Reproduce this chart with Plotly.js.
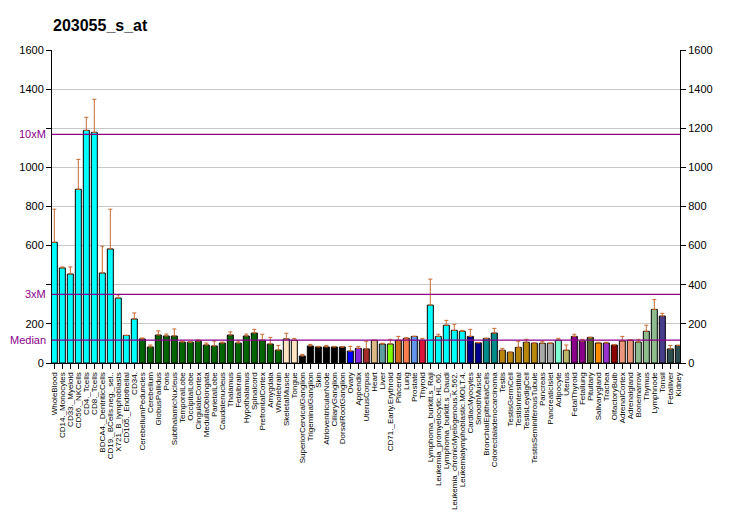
<!DOCTYPE html>
<html>
<head>
<meta charset="utf-8">
<script src="https://cdn.plot.ly/plotly-3.0.1.min.js"></script>
<style>html,body{margin:0;padding:0;background:#fff;}#chart{width:732px;height:530px;}</style>
</head>
<body>
<div id="chart"></div>
<script>
const chartTitle = "203055_s_at";
const categories = [
  "WholeBlood","CD14._Monocytes","CD33._Myeloid","CD56._NKCells","CD4._Tcells","CD8._Tcells",
  "BDCA4._DentriticCells","CD19._BCells.neg._sel..","X721_B_lymphoblasts","CD105._Endothelial","CD34.",
  "CerebellumPeduncles","Cerebellum","GlobusPallidus","Pons","SubthalamicNucleus","TemporalLobe",
  "OccipitalLobe","CingulateCortex","MedullaOblongata","ParietalLobe","Caudatenucleus","Thalamus",
  "Fetalbrain","Hypothalamus","Spinalcord","PrefrontalCortex","Amygdala","Wholebrain",
  "SkeletalMuscle","Tongue","SuperiorCervicalGanglion","TrigeminalGanglion","Skin",
  "AtrioventricularNode","CiliaryGanglion","DorsalRootGanglion","Ovary","Appendix","UterusCorpus",
  "Heart","Liver","CD71._Early.Erythroid","Placenta","Lung","Prostate","Thyroid",
  "Lymphoma_burkitt.s_Raji","Leukemia_promyelocytic.HL.60.","Lymphoma_burkitt.s_Daudi",
  "Leukemia_chronicMyelogenous.K.562.","Leukemialymphoblastic.MOLT.4.","CardiacMyocytes",
  "SmoothMuscle","BronchialEpithelialCells","Colorectaladenocarcinoma","Testis","TestisGermCell",
  "TestisInterstitial","TestisLeydigCell","TestisSeminiferousTubule","Pancreas","PancreaticIslet",
  "Adipocyte","Uterus","FetalThyroid","Fetallung","Pituitary","Salivarygland","Trachea",
  "OlfactoryBulb","AdrenalCortex","Adrenalgland","Bonemarrow","Thymus","Lymphnode","Tonsil",
  "Fetalliver","Kidney"
];
const values = [
  617,486,455,888,1189,1179,460,583,332,141,225,
  123,82,143,138,138,107,107,112,92,87,102,143,102,138,153,116,97,66,
  123,116,36,87,82,82,82,82,61,75,72,
  116,97,97,116,126,136,116,
  296,136,193,167,162,136,
  103,126,153,65,55,80,106,101,101,101,
  116,65,136,112,131,102,102,92,112,116,107,162,274,240,72,90
];
const errorsUp = [
  169,5,36,153,67,169,137,203,16,0,31,
  5,10,21,10,36,5,0,6,10,25,5,16,10,10,19,31,34,24,
  29,10,8,8,3,8,3,0,24,10,39,
  0,4,24,20,3,0,10,
  133,11,25,31,5,36,
  2,0,24,10,0,31,15,2,10,0,
  10,27,11,9,0,4,4,3,24,2,14,31,50,14,18,0
];
const barColors = [
  "#00FFFF","#00FFFF","#00FFFF","#00FFFF","#00FFFF","#00FFFF","#00FFFF","#00FFFF","#00FFFF","#00FFFF","#00FFFF",
  "#006400","#006400","#006400","#006400","#006400","#006400","#006400","#006400","#006400","#006400",
  "#006400","#006400","#006400","#006400","#006400","#006400","#006400","#006400",
  "#FFE4C4","#FFE4C4","#000000","#000000","#000000","#000000","#000000","#000000",
  "#0000FF","#8A2BE2","#A52A2A","#DEB887","#5F9EA0","#7FFF00","#D2691E","#FF7F50","#6495ED","#DC143C",
  "#00FFFF","#00FFFF","#00FFFF","#00FFFF","#00FFFF",
  "#00008B","#00008B","#008B8B","#008B8B",
  "#B8860B","#B8860B","#B8860B","#B8860B","#B8860B","#A9A9A9","#A9A9A9",
  "#7FFFD4","#BDB76B","#8B008B","#8B008B","#556B2F","#FF8C00","#9932CC","#8B0000",
  "#E9967A","#E9967A","#8FBC8F","#8FBC8F","#8FBC8F","#483D8B","#2F4F4F","#2F4F4F"
];
const medianValue = 117;
const threeXM = 351;
const tenXM = 1169;
const refLabels = ["Median","3xM","10xM"];
const tickVals = [0,200,400,600,800,1000,1200,1400,1600];
const leftTickText = ["0","200","","600","800","1000","","1400","1600"];
const rightTickText = ["0","200","400","600","800","1000","1200","1400","1600"];

const refVals = [medianValue, threeXM, tenXM];
const purple = "#8B008B";

const traces = [
  {
    type: "bar",
    x: categories,
    y: values,
    marker: {color: barColors, line: {color: "#000000", width: 1}},
    error_y: {type: "data", symmetric: false, array: errorsUp,
              arrayminus: errorsUp.map(() => 0), color: "#C8692E", thickness: 1, width: 2},
    hoverinfo: "x+y",
    showlegend: false
  },
  {
    type: "scatter", mode: "markers",
    x: [categories[0]], y: [0], yaxis: "y2",
    marker: {opacity: 0}, showlegend: false, hoverinfo: "skip"
  }
];

const shapes = refVals.map(v => ({
  type: "line", xref: "paper", x0: 0, x1: 1, yref: "y", y0: v, y1: v,
  line: {color: purple, width: 1.3}, layer: "above"
}));

const annotations = refVals.map((v, i) => ({
  xref: "paper", x: 0, xanchor: "right", xshift: -4,
  yref: "y", y: v, yanchor: "middle",
  text: refLabels[i], showarrow: false,
  font: {family: "Liberation Sans, Arial, sans-serif", size: 11, color: purple}
}));

const layout = {
  width: 732, height: 530,
  margin: {l: 52, r: 52, t: 50, b: 167, pad: 0},
  paper_bgcolor: "#FFFFFF", plot_bgcolor: "#FFFFFF",
  title: {text: "<b>" + chartTitle + "</b>", x: 53 / 732, xref: "container", xanchor: "left",
          y: 0.962, yref: "container", pad: {l: 0, r: 0, t: 0, b: 0},
          font: {family: "Liberation Sans, Arial, sans-serif", size: 16, color: "#000000"}},
  bargap: 0.25,
  font: {family: "Liberation Sans, Arial, sans-serif", size: 11, color: "#000000"},
  xaxis: {
    type: "category", range: [-0.29, 78.21], autorange: false,
    tickmode: "array", tickvals: categories, ticktext: categories,
    showline: true, linecolor: "#000000", linewidth: 1,
    ticks: "outside", ticklen: 5, tickcolor: "#000000",
    tickangle: -90, showgrid: false, zeroline: false,
    tickfont: {family: "Liberation Sans, Arial, sans-serif", size: 8, color: "#000000"}
  },
  yaxis: {
    range: [0, 1600], autorange: false,
    tickmode: "array", tickvals: tickVals, ticktext: leftTickText,
    showline: true, linecolor: "#000000", linewidth: 1,
    ticks: "outside", ticklen: 5, tickcolor: "#000000",
    showgrid: true, gridcolor: "#C8C8C8", gridwidth: 1, zeroline: false,
    tickfont: {size: 11}
  },
  yaxis2: {
    overlaying: "y", side: "right", range: [0, 1600], autorange: false,
    tickmode: "array", tickvals: tickVals, ticktext: rightTickText,
    showline: true, linecolor: "#000000", linewidth: 1,
    ticks: "outside", ticklen: 5, tickcolor: "#000000",
    showgrid: false, zeroline: false, tickfont: {size: 11}
  },
  shapes: shapes,
  annotations: annotations
};

Plotly.newPlot("chart", traces, layout, {displayModeBar: false, staticPlot: true});
</script>
</body>
</html>
